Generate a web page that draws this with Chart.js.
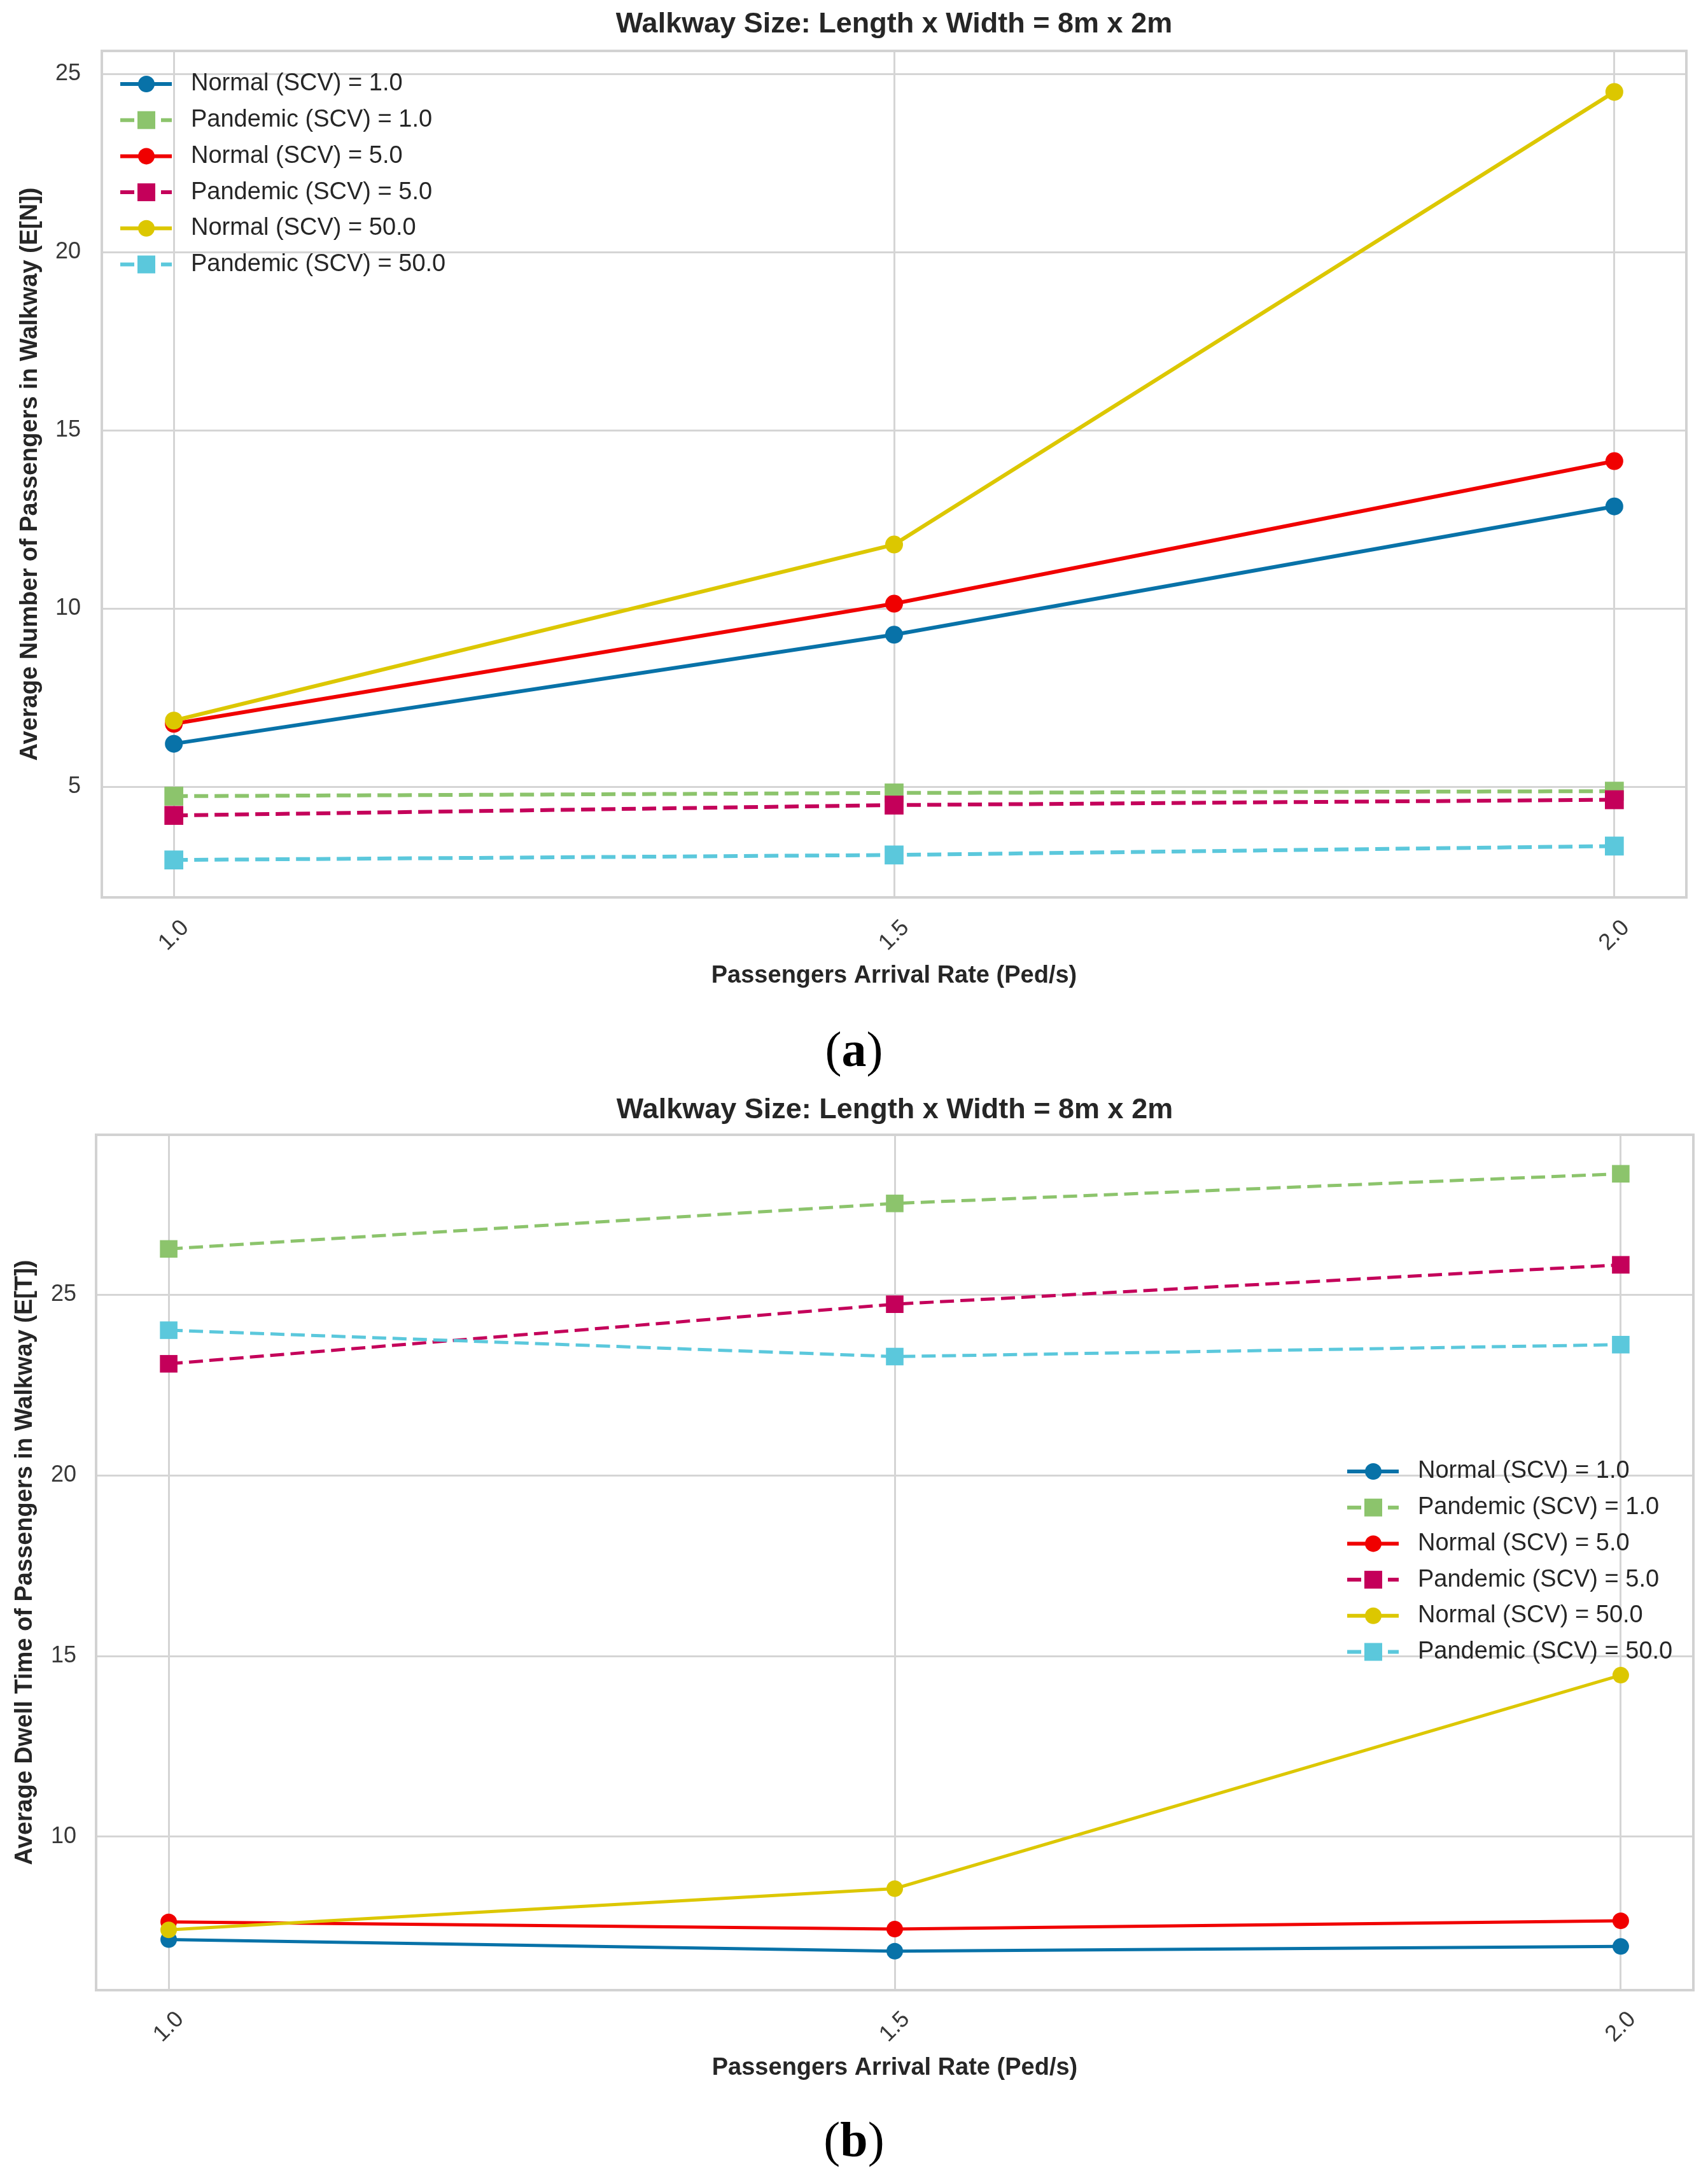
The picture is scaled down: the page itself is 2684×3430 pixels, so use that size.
<!DOCTYPE html>
<html lang="en">
<head>
<meta charset="UTF-8">
<title>Walkway Size</title>
<script src="https://cdn.jsdelivr.net/npm/chart.js"></script>
<style>
  html, body { margin: 0; padding: 0; background: #fff; }
  #page { position: relative; width: 2684px; height: 3430px; background: #fff; }
  canvas { position: absolute; left: 0; }
  #chartA { top: 0; }
  #chartB { top: 1690px; }
  .tag { position: absolute; left: 0; width: 2684px; text-align: center;
         font-family: "Liberation Serif", "DejaVu Serif", serif; font-size: 78px; line-height: 78px; color: #000; }
  .tag b { font-weight: bold; }
</style>
</head>
<body>
<div id="page">
  <canvas id="chartA" width="2684" height="1600"></canvas>
  <div class="tag" style="top:1610px">(<b>a</b>)</div>
  <canvas id="chartB" width="2684" height="1610"></canvas>
  <div class="tag" style="top:3323px">(<b>b</b>)</div>
</div>
<script>
// arrival rates (Ped/s)
const rates = [1.0, 1.5, 2.0];
const xTicks = [1.0, 1.5, 2.0];

const seriesNames = ['Normal (SCV) = 1.0', 'Pandemic (SCV) = 1.0', 'Normal (SCV) = 5.0',
                     'Pandemic (SCV) = 5.0', 'Normal (SCV) = 50.0', 'Pandemic (SCV) = 50.0'];

// (a) average number of passengers in walkway E[N]
const enNormal1 = [6.21, 9.27, 12.87];
const enPandemic1 = [4.74, 4.83, 4.88];
const enNormal5 = [6.77, 10.14, 14.14];
const enPandemic5 = [4.20, 4.49, 4.64];
const enNormal50 = [6.86, 11.80, 24.50];
const enPandemic50 = [2.95, 3.09, 3.34];
const enTicks = [5, 10, 15, 20, 25];

// (b) average dwell time of passengers in walkway E[T]
const etNormal1 = [7.15, 6.83, 6.96];
const etPandemic1 = [26.27, 27.53, 28.35];
const etNormal5 = [7.64, 7.44, 7.67];
const etPandemic5 = [23.09, 24.74, 25.83];
const etNormal50 = [7.42, 8.56, 14.47];
const etPandemic50 = [24.02, 23.29, 23.62];
const etTicks = [10, 15, 20, 25];

const colors = ['#0872a8', '#8cc46c', '#f00000', '#c4005a', '#dcc700', '#5bc8dc'];
const dashed = [false, true, false, true, false, true];

const FONT = "'Liberation Sans', Arial, sans-serif";
const TEXT = '#262626';

function makeDatasets(list, lw, r) {
  return list.map(function(vals, i) {
    return {
      label: seriesNames[i],
      data: vals.map(function(v, j) { return {x: rates[j], y: v}; }),
      borderColor: colors[i],
      backgroundColor: colors[i],
      borderWidth: lw,
      borderDash: dashed[i] ? [22, 10] : [],
      pointStyle: dashed[i] ? 'rect' : 'circle',
      pointRadius: dashed[i] ? r * 1.5 : r,
      pointBorderWidth: 0,
      pointBackgroundColor: colors[i],
      tension: 0,
      order: list.length - i
    };
  });
}

// grey frame round the plot area, like the matplotlib spines
const framePlugin = {
  id: 'frame',
  beforeDatasetsDraw(chart) {
    const a = chart.chartArea, ctx = chart.ctx;
    ctx.save();
    ctx.strokeStyle = '#d2d2d2';
    ctx.lineWidth = 4;
    ctx.strokeRect(a.left, a.top, a.right - a.left, a.bottom - a.top);
    ctx.restore();
  }
};

// matplotlib style legend: line + marker + text
const lineLegend = {
  id: 'lineLegend',
  afterDatasetsDraw(chart, args, opts) {
    const a = chart.chartArea, ctx = chart.ctx;
    const x0 = opts.fromRight ? a.right - opts.x : a.left + opts.x;
    const y0 = a.top + opts.y;
    ctx.save();
    chart.data.datasets.forEach(function(ds, i) {
      const y = y0 + i * 56.7;
      ctx.strokeStyle = ds.borderColor;
      ctx.lineWidth = 6;
      ctx.setLineDash(ds.borderDash);
      ctx.beginPath();
      ctx.moveTo(x0, y);
      ctx.lineTo(x0 + 81, y);
      ctx.stroke();
      ctx.setLineDash([]);
      ctx.fillStyle = ds.borderColor;
      const cx = x0 + 41;
      if (ds.pointStyle === 'rect') {
        ctx.fillRect(cx - 14, y - 14, 28, 28);
      } else {
        ctx.beginPath();
        ctx.arc(cx, y, 13, 0, Math.PI * 2);
        ctx.fill();
      }
      ctx.fillStyle = TEXT;
      ctx.font = '38px ' + FONT;
      ctx.textAlign = 'left';
      ctx.textBaseline = 'middle';
      ctx.fillText(ds.label, x0 + 111, y);
    });
    ctx.restore();
  }
};

function makeChart(id, cfg) {
  return new Chart(document.getElementById(id), {
    type: 'line',
    data: { datasets: makeDatasets(cfg.series, cfg.lineWidth, cfg.radius) },
    plugins: [framePlugin, lineLegend],
    options: {
      responsive: false,
      animation: false,
      devicePixelRatio: 1,
      layout: { padding: { left: 0, right: cfg.padRight, top: 0, bottom: 0 } },
      plugins: {
        legend: { display: false },
        tooltip: { enabled: false },
        title: {
          display: true,
          text: 'Walkway Size: Length x Width = 8m x 2m',
          fullSize: false,
          color: TEXT,
          font: { family: FONT, size: 45, weight: 'bold' },
          padding: cfg.titlePad
        },
        lineLegend: cfg.legend
      },
      scales: {
        x: {
          type: 'linear',
          min: 0.95,
          max: 2.05,
          afterBuildTicks: function(s) { s.ticks = xTicks.map(function(v) { return {value: v}; }); },
          afterFit: function(s) { s.height = cfg.xHeight; },
          grid: { color: '#d5d5d5', lineWidth: 3, drawTicks: false },
          border: { display: false },
          ticks: {
            autoSkip: false,
            minRotation: 45,
            maxRotation: 45,
            padding: cfg.xTickPad,
            labelOffset: 18,
            color: '#383838',
            font: { family: FONT, size: 36 },
            callback: function(v) { return v.toFixed(1); }
          },
          title: {
            display: true,
            text: 'Passengers Arrival Rate (Ped/s)',
            color: TEXT,
            font: { family: FONT, size: 38, weight: 'bold' },
            padding: { top: 0, bottom: cfg.xTitlePad }
          }
        },
        y: {
          min: cfg.yMin,
          max: cfg.yMax,
          afterBuildTicks: function(s) { s.ticks = cfg.yTicks.map(function(v) { return {value: v}; }); },
          afterFit: function(s) { s.width = cfg.yWidth; },
          grid: { color: '#d5d5d5', lineWidth: 3, drawTicks: false },
          border: { display: false },
          ticks: {
            padding: cfg.yTickPad,
            color: '#383838',
            font: { family: FONT, size: 36 },
            callback: function(v) { return String(v); }
          },
          title: {
            display: true,
            text: cfg.yTitle,
            color: TEXT,
            font: { family: FONT, size: 38, weight: 'bold' },
            padding: { top: cfg.yTitlePad, bottom: 0 }
          }
        }
      }
    }
  });
}

makeChart('chartA', {
  series: [enNormal1, enPandemic1, enNormal5, enPandemic5, enNormal50, enPandemic50],
  yTicks: enTicks, yMin: 1.9, yMax: 25.65,
  yTitle: 'Average Number of Passengers in Walkway (E[N])',
  padRight: 34, yWidth: 160, xHeight: 190,
  lineWidth: 6, radius: 14,
  titlePad: { top: 12, bottom: 14 },
  xTickPad: 27, xTitlePad: 44, yTickPad: 33, yTitlePad: 25,
  legend: { x: 29, y: 52, fromRight: false }
});

makeChart('chartB', {
  series: [etNormal1, etPandemic1, etNormal5, etPandemic5, etNormal50, etPandemic50],
  yTicks: etTicks, yMin: 5.75, yMax: 29.43,
  yTitle: 'Average Dwell Time of Passengers in Walkway (E[T])',
  padRight: 23, yWidth: 151, xHeight: 173,
  lineWidth: 5, radius: 13,
  titlePad: { top: 28, bottom: 11 },
  xTickPad: 25, xTitlePad: 28, yTickPad: 31, yTitlePad: 17,
  legend: { x: 544, y: 529, fromRight: true }
});
</script>
</body>
</html>
